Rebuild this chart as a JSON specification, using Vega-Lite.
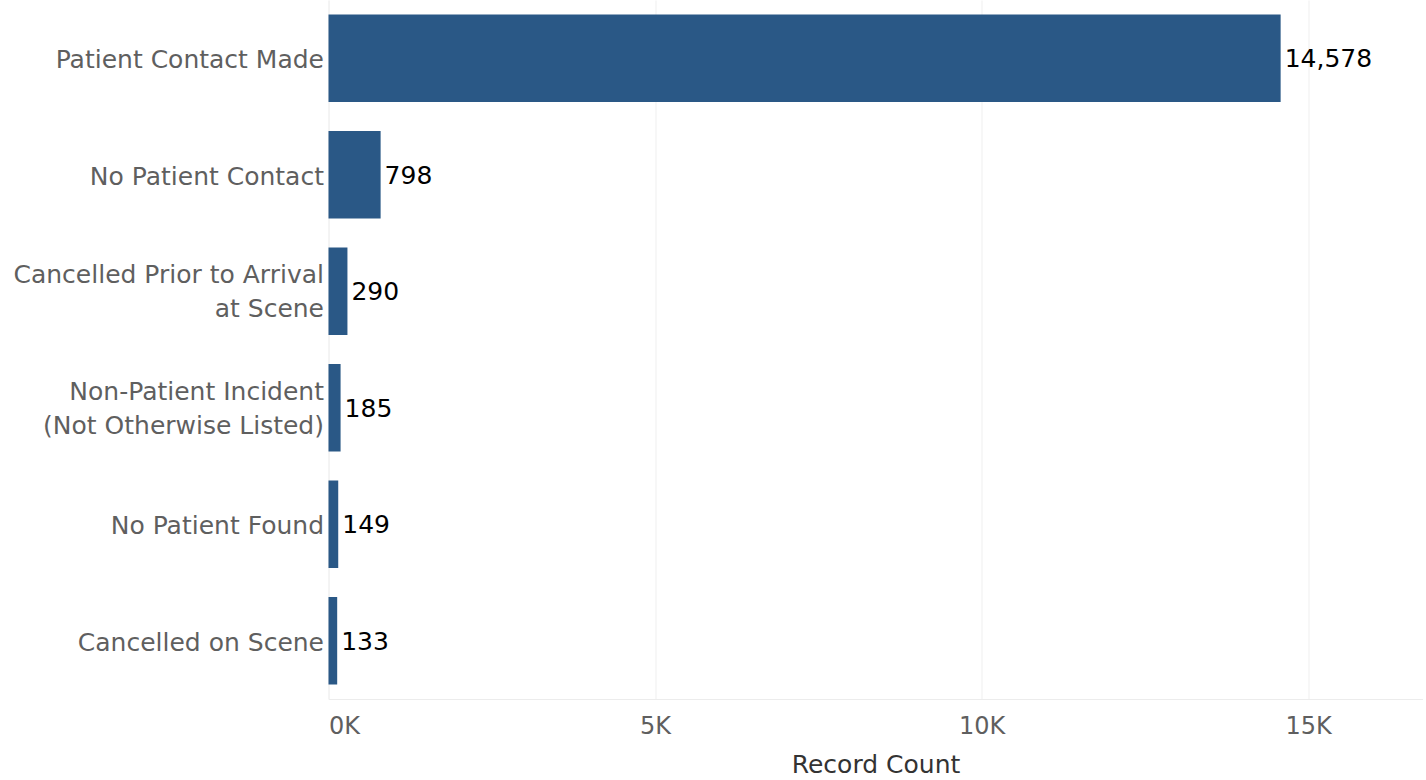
{
  "$schema": "https://vega.github.io/schema/vega-lite/v6.json",
  "autosize": "none",
  "width": 1094,
  "height": 699,
  "padding": {"left": 328.5, "top": 0, "right": 3.5, "bottom": 81},
  "background": "white",
  "config": {"view": {"stroke": null}, "font": "DejaVu Sans"},
  "data": {"values": [
    {"status": "Patient Contact Made", "count": 14578},
    {"status": "No Patient Contact", "count": 798},
    {"status": "Cancelled Prior to Arrival at Scene", "count": 290},
    {"status": "Non-Patient Incident (Not Otherwise Listed)", "count": 185},
    {"status": "No Patient Found", "count": 149},
    {"status": "Cancelled on Scene", "count": 133}
  ]},
  "encoding": {
    "y": {
      "field": "status", "type": "nominal", "sort": null,
      "scale": {"paddingInner": 0.25, "paddingOuter": 0.125},
      "axis": {
        "title": null, "ticks": false, "domain": true, "domainColor": "#f0f0f0",
        "labelFontSize": 25, "labelColor": "#5f5f5f", "labelPadding": 5,
        "labelLimit": 400, "labelLineHeight": 34,
        "labelOffset": {"condition": {"test": "indexof(datum.label, 'Scene') > 0 && indexof(datum.label, 'Arrival') > 0 || indexof(datum.label, 'Listed') > 0", "value": -16}, "value": 2},
        "labelExpr": "datum.label == 'Cancelled Prior to Arrival at Scene' ? ['Cancelled Prior to Arrival', 'at Scene'] : datum.label == 'Non-Patient Incident (Not Otherwise Listed)' ? ['Non-Patient Incident', '(Not Otherwise Listed)'] : datum.label"
      }
    },
    "x": {
      "field": "count", "type": "quantitative",
      "scale": {"domain": [0, 16750], "nice": false},
      "axis": {
        "title": "Record Count", "titleFontSize": 25, "titleFontWeight": "normal", "titleColor": "#333333",
        "titlePadding": 14,
        "values": [0, 5000, 10000, 15000],
        "labelExpr": "format(datum.value / 1000, 'd') + 'K'",
        "labelFontSize": 24, "labelColor": "#5f5f5f", "labelPadding": 15, "labelFlush": true,
        "ticks": false, "domain": true, "domainColor": "#ececec",
        "grid": true, "gridColor": "#efefef"
      }
    }
  },
  "layer": [
    {"mark": {"type": "bar", "color": "#2a5886"}},
    {"mark": {"type": "text", "align": "left", "baseline": "middle", "dx": 4, "dy": 1, "fontSize": 25, "color": "#000000"},
     "encoding": {"text": {"field": "count", "type": "quantitative", "format": ","}}}
  ]
}
